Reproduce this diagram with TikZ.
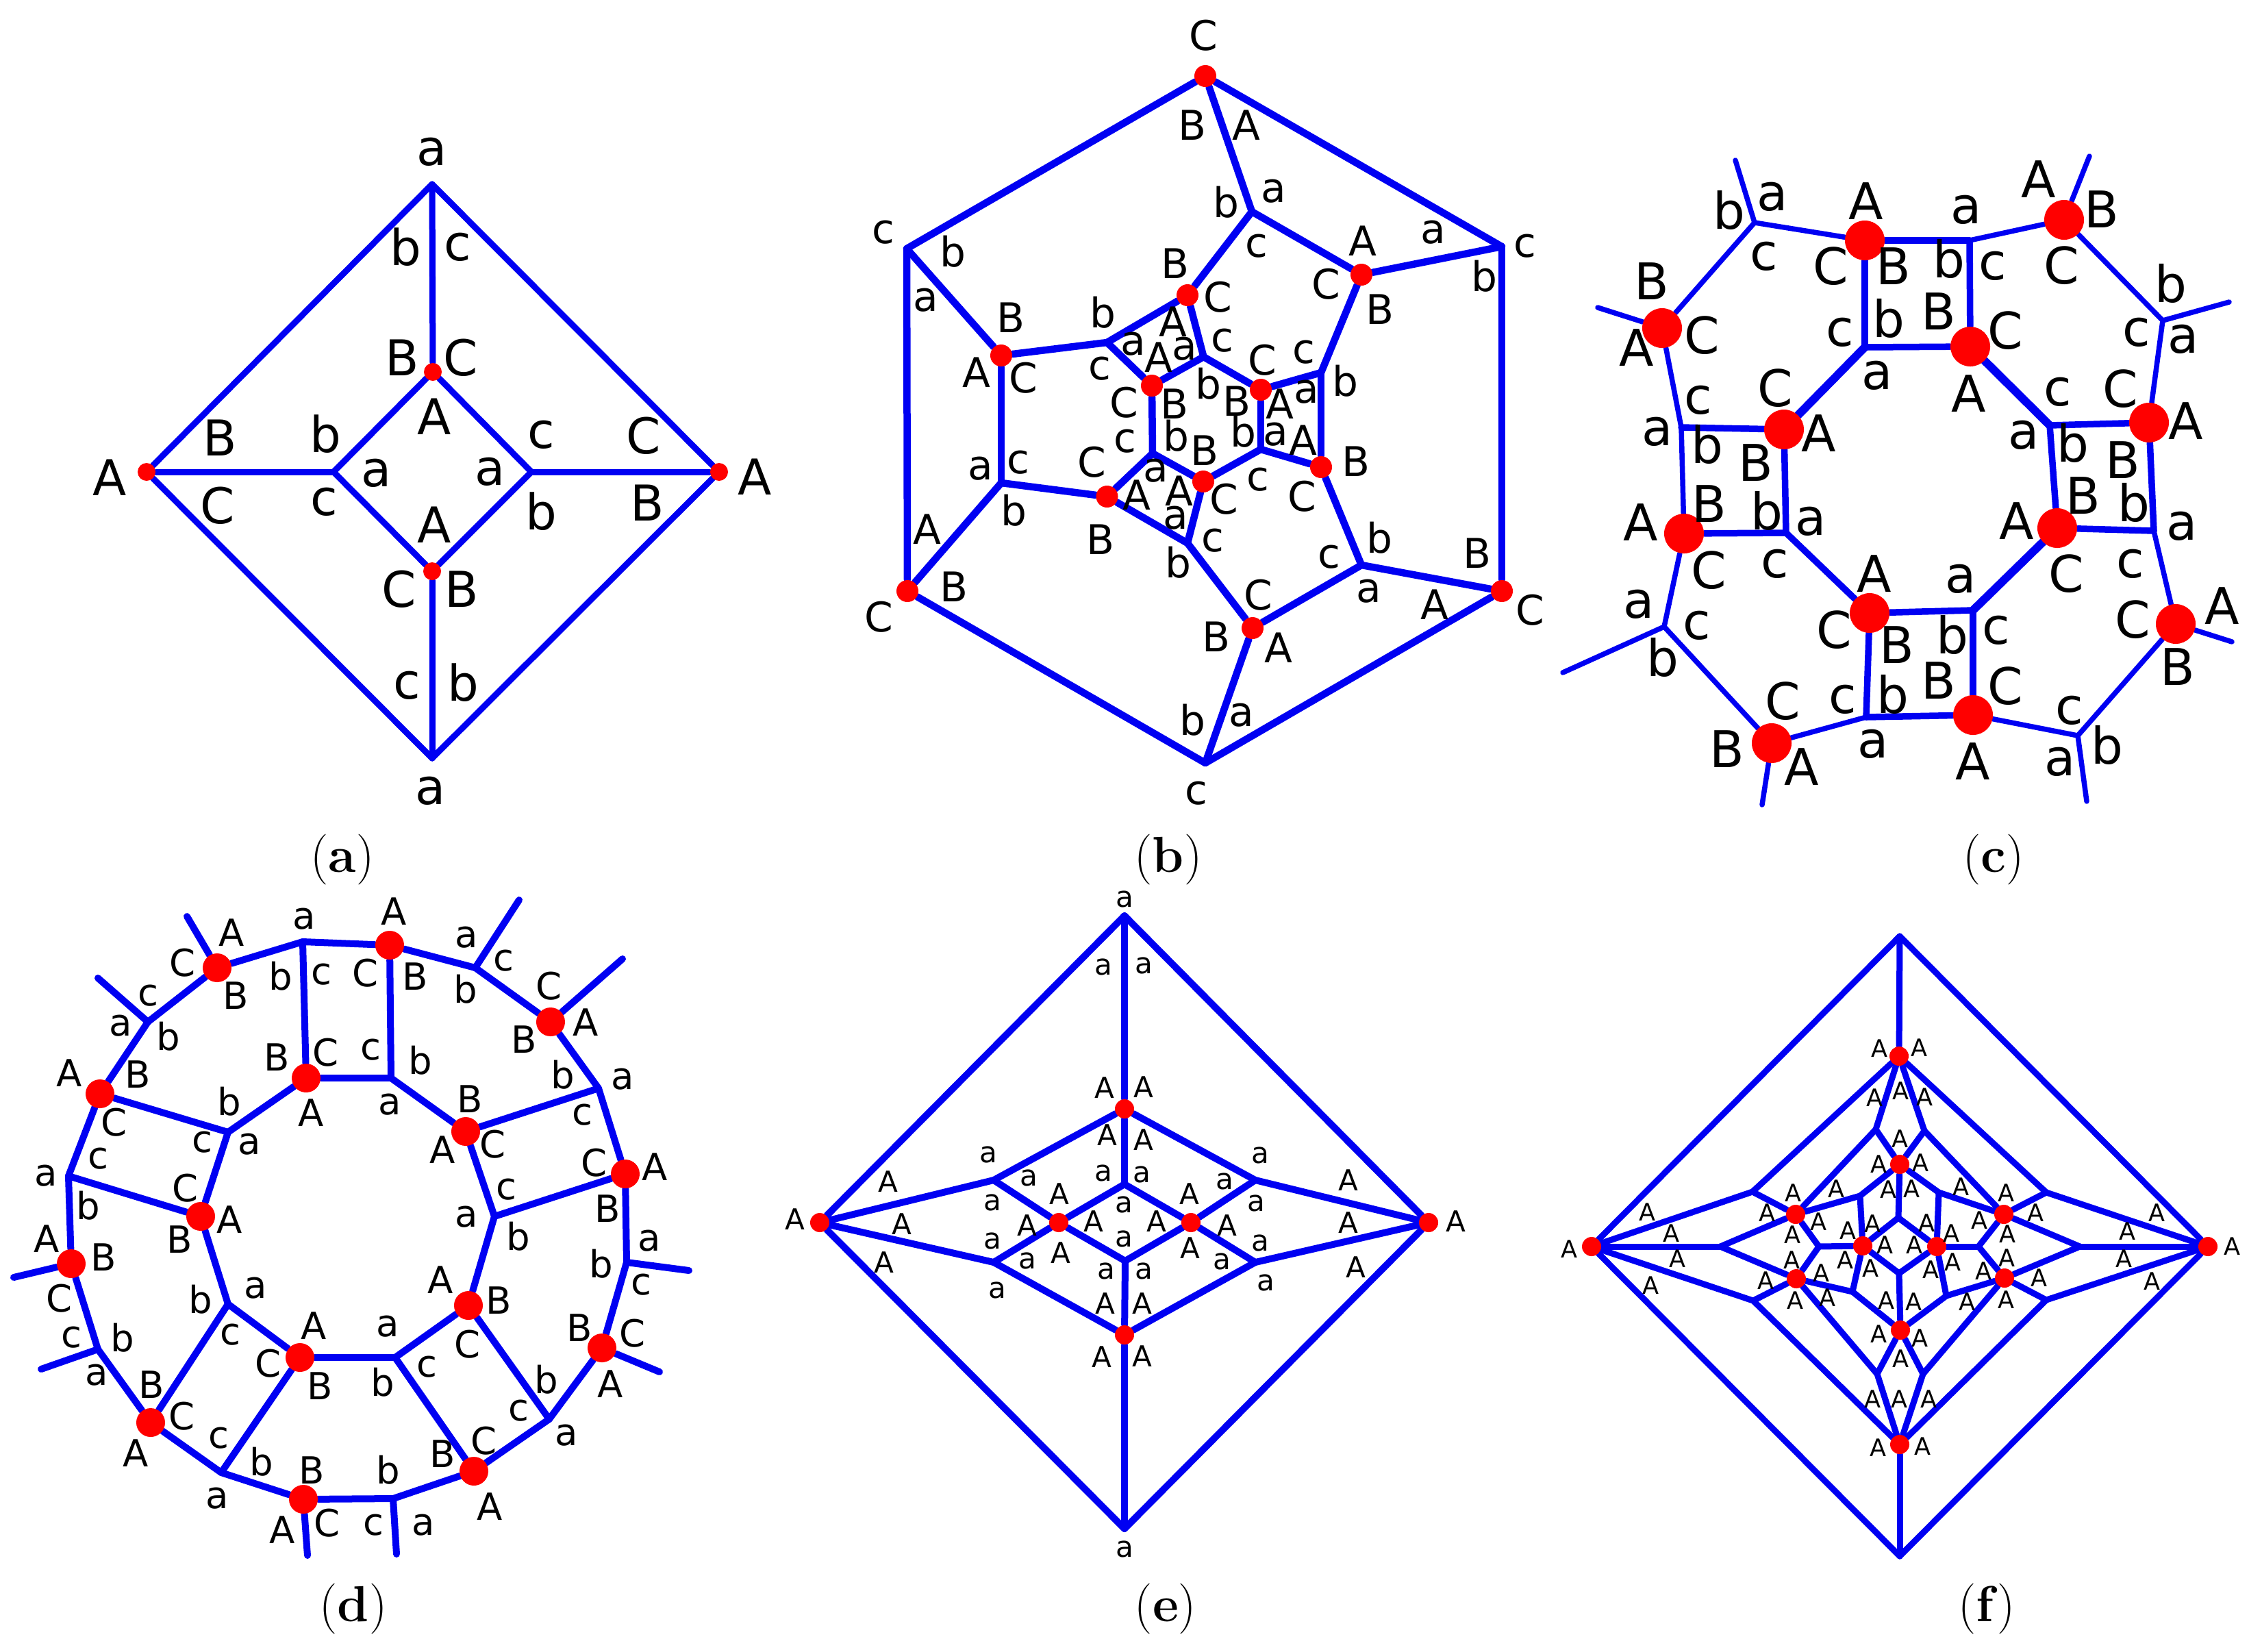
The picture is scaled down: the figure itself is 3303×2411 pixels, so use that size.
\documentclass[tikz,border=0pt]{standalone}
\usepackage{fontspec}
\usetikzlibrary{backgrounds}
\newfontfamily\lblfont{DejaVu Sans}

\begin{document}
\begin{tikzpicture}[
  x=0.01cm, y=-0.01cm,
  reddot/.style={circle, fill=red, inner sep=0pt, minimum size=#1*0.02cm},
  edgeline/.style={draw=blue!95!black, line width=#1*0.01cm, line cap=round, line join=round},
  edgeline/.default=8,
  lbl/.style={inner sep=0pt, text=black, font=\lblfont\fontsize{#1}{#1}\selectfont},
  figcap/.style={inner sep=0pt, font=\fontsize{21}{21}\selectfont}]
\useasboundingbox (0,0) rectangle (3303,2411);

\foreach \n/\x/\y in {1/631/269,4/631/1107,7/487/689,8/776/689} \coordinate (a\n) at (\x,\y);
\foreach \n/\x/\y in {2/214/689,3/1050/689,5/632/543,6/631/834} \node[reddot=13] (a\n) at (\x,\y) {};
\foreach \x/\y/\lab [count=\i] in {631/222/a,592/361/b,668/361/c,587/522/B,673/522/C,634/608/A,321/639/B,475/634/b,550/691/a,716/689/a,790/635/c,940/636/C,160/697/A,318/738/C,473/733/c,634/766/A,790/747/b,945/734/B,1102/696/A,583/860/C,674/860/B,594/1001/c,676/997/b,629/1155/a}
  \node[lbl=20.5] (la\i) at (\x,\y) {\lab};
\begin{scope}[on background layer]
\foreach \i/\j in {1/2,1/3,4/2,4/3,1/5,4/6,5/7,5/8,6/7,6/8,2/7,3/8} \draw[edgeline=9] (a\i) -- (a\j);
\end{scope}
\node[figcap] (capa) at (500,1255) {(\textbf{a})};

\foreach \n/\x/\y in {2/2193/360,4/1760/1114,6/1324/363,7/1828/309,9/1929/544,11/1988/825,13/1734/793,15/1462/705,17/1616.5/500,19/1757.5/521,21/1841/656,23/1683/662} \coordinate (b\n) at (\x,\y);
\foreach \n/\x/\y in {1/1760/111,3/2193/863,5/1325/863,8/1988/401,10/1929/682,12/1829/917,14/1616.5/725,16/1462/519,18/1734/431,20/1841/569,22/1757/703,24/1682/563} \node[reddot=16] (b\n) at (\x,\y) {};
\foreach \x/\y/\lab [count=\i] in {1757/52/C,1741/183/B,1820/183/A,1790/295/b,1860/279/a,1290/339/c,1391/367/b,2093/339/a,2227/359/c,2167/403/b,1990/352/A,1936/415/C,1835/359/c,1716/385/B,1778/434/C,2015/452/B,1352/438/a,1476/464/B,1610/456/b,1426/544/A,1494/552/C,1785/497/c,1713/470/A,1655/502/a,1692/522/A,1730/509/a,1606/538/c,1904/514/c,1843/526/C,1764/560/b,1908/572/a,1964/556/b,1715/590/B,1641/588/C,1806/586/B,1869/590/A,1717/636/b,1643/644/c,1815/630/b,1863/634/a,1903/643/A,1980/674/B,1759/658/B,1432/684/a,1487/675/c,1594/675/C,1688/687/a,1660/723/A,1722/717/A,1787/729/C,1837/700/c,1901/725/C,1480/745/b,1717/756/a,1354/773/A,1607/788/B,1771/789/c,1941/813/c,2014/785/b,1720/821/b,2157/808/B,1393/857/B,1837/869/C,1999/863/a,2095/883/A,1283/901/C,2234/891/C,1776/930/B,1867/946/A,1741/1051/b,1813/1044/a,1747/1158/c}
  \node[lbl=17] (lb\i) at (\x,\y) {\lab};
\begin{scope}[on background layer]
\foreach \i/\j in {1/2,2/3,3/4,4/5,5/6,6/1,1/7,2/8,3/11,4/12,5/15,6/16,7/8,8/9,9/10,10/11,11/12,12/13,13/14,14/15,15/16,16/17,17/18,18/7,18/19,9/20,10/21,13/22,14/23,17/24,19/20,20/21,21/22,22/23,23/24,24/19} \draw[edgeline=10.5] (b\i) -- (b\j);
\end{scope}
\node[figcap] (capb) at (1706,1255) {(\textbf{b})};

\foreach \n/\x/\y in {2/2876/351,4/3158/468,6/2993/621,8/3145/775,10/3034/1074,12/2725/1047,14/2430/915,16/2455/624,18/2562/325,19/2723/507,22/2608/778,24/2881/891,25/2534/234,26/3051/228,27/3255/441,28/3259/937,29/3047/1170,30/2573/1175,31/2282/982,32/2333/449} \coordinate (c\n) at (\x,\y);
\foreach \n/\x/\y in {1/2723/351,3/3014/321,5/3138/617,7/3004/771,9/3177/911,11/2881/1044,13/2587/1085,15/2459/779,17/2427/479,20/2877/506,21/2605/627,23/2730/895} \node[reddot=29] (c\n) at (\x,\y) {};
\foreach \x/\y/\lab [count=\i] in {2588/287/a,2525/307/b,2725/294/A,2871/306/a,2977/262/A,3069/306/B,2673/389/C,2765/389/B,2846/378/b,2910/388/c,2576/374/c,3010/388/C,3170/414/b,2412/411/B,2485/490/C,2390/508/A,2687/485/c,2758/465/b,2831/455/B,2928/483/C,3120/485/c,3188/495/a,2741/548/a,2875/575/A,3005/572/c,3096/568/C,2592/567/C,2480/584/c,2420/630/a,2656/633/A,2955/635/a,3192/615/A,2493/649/b,3027/647/b,3100/672/B,2564/676/B,2496/736/B,2580/746/b,3042/724/B,3116/734/b,2396/763/A,2644/761/a,2945/761/A,3186/768/a,2495/833/C,3017/838/C,2592/823/c,3111/823/c,2737/838/A,2863/845/a,3245/885/A,3114/905/C,2393/882/a,2678/920/C,2478/913/c,2770/942/B,2851/927/b,2915/920/c,2428/960/b,3180/974/B,2691/1021/c,2764/1014/b,2831/994/B,2928/1002/C,2603/1024/C,3022/1037/c,3077/1088/b,2735/1086/a,2522/1094/B,3008/1112/a,2631/1120/A,2881/1112/A}
  \node[lbl=21] (lc\i) at (\x,\y) {\lab};
\begin{scope}[on background layer]
\foreach \i/\j in {18/1,2/3,3/4,4/5,8/9,9/10,10/11,12/13,13/14,14/15,16/17,17/18,18/25,3/26,4/27,9/28,10/29,13/30,14/31,17/32,15/16} \draw[edgeline=7.5] (c\i) -- (c\j);
\foreach \i/\j in {1/2,1/19,19/20,2/20,5/6,6/7,7/8,5/8,16/21,21/22,22/15,23/24,23/12,24/11,12/11,22/23} \draw[edgeline=9.5] (c\i) -- (c\j);
\foreach \i/\j in {20/6,21/19,24/7} \draw[edgeline=12] (c\i) -- (c\j);
\end{scope}
\node[figcap] (capc) at (2911,1255) {(\textbf{c})};

\foreach \n/\x/\y in {2/694/1413,4/874/1589,6/915/1843,8/802/2072,10/574/2188,12/323/2150,14/143/1970,16/100/1717,18/216/1492,20/442/1375,22/571/1574,24/722/1776,26/577/1982,28/333/1904,30/333/1653,31/273/1338,32/758/1314,33/909/1400,34/1006/1855,35/963/2003,36/579/2269,37/449/2271,38/60/1999,39/20/1865,40/143/1428} \coordinate (d\n) at (\x,\y);
\foreach \n/\x/\y in {1/569/1380,3/804/1492,5/913/1714,7/879/1968,9/692/2148,11/443/2189,13/220/2077,15/104/1845,17/146/1597,19/317/1413,21/447/1574,23/680/1652,25/684/1906,27/438/1982,29/293/1776} \node[reddot=21] (d\n) at (\x,\y) {};
\foreach \x/\y/\lab [count=\i] in {444/1342/a,575/1331/A,338/1362/A,681/1369/a,267/1406/C,410/1425/b,469/1423/c,534/1421/C,606/1426/B,735/1403/c,680/1444/b,802/1440/C,344/1454/B,216/1454/c,176/1498/a,855/1493/A,246/1513/b,765/1518/B,404/1544/B,476/1537/C,541/1533/c,614/1548/b,822/1569/b,909/1576/a,101/1567/A,201/1569/B,686/1605/B,335/1608/b,569/1613/a,454/1625/A,850/1628/c,167/1639/C,295/1668/c,364/1671/a,720/1671/C,646/1679/A,143/1692/c,868/1698/C,956/1704/A,67/1717/a,271/1735/C,739/1737/c,887/1765/B,681/1777/a,335/1781/A,129/1760/b,757/1805/b,262/1810/B,948/1812/a,68/1809/A,151/1836/B,878/1845/b,936/1876/c,643/1869/A,293/1897/b,373/1881/a,87/1896/C,728/1899/B,566/1937/a,458/1936/A,683/1963/C,846/1939/B,924/1947/C,336/1949/c,179/1953/b,104/1953/c,623/1996/c,392/1991/C,467/2024/B,559/2018/b,891/2021/A,798/2014/b,141/2008/a,221/2022/B,757/2060/c,266/2068/C,827/2096/a,319/2100/c,707/2104/C,646/2123/B,198/2122/A,382/2134/b,567/2146/b,455/2147/B,317/2188/a,715/2200/A,412/2234/A,478/2224/C,545/2227/c,618/2227/a}
  \node[lbl=15.5] (ld\i) at (\x,\y) {\lab};
\begin{scope}[on background layer]
\foreach \i/\j in {1/2,2/3,3/4,4/5,5/6,6/7,7/8,8/9,9/10,10/11,11/12,12/13,13/14,14/15,15/16,16/17,17/18,18/19,19/20,20/1,21/22,22/23,23/24,24/25,25/26,26/27,27/28,28/29,29/30,30/21,20/21,1/22,4/23,5/24,8/25,9/26,12/27,13/28,16/29,17/30,19/31,2/32,3/33,6/34,7/35,10/36,11/37,14/38,15/39,18/40} \draw[edgeline=10] (d\i) -- (d\j);
\end{scope}
\node[figcap] (capd) at (516,2349) {(\textbf{d})};

\foreach \n/\x/\y in {1/1642/1337,2/1642/2232,9/1451/1723,10/1451/1843,11/1833/1723,12/1833/1843,13/1642/1729,14/1643/1841} \coordinate (e\n) at (\x,\y);
\foreach \n/\x/\y in {3/1197/1785,4/2086/1785,5/1642/1619,6/1642/1949,7/1546/1785,8/1739/1785} \node[reddot=14] (e\n) at (\x,\y) {};
\foreach \x/\y/\lab [count=\i] in {1642/1313/a,1611/1412/a,1670/1410/a,1613/1588/A,1670/1587/A,1617/1657/A,1670/1664/A,1443/1686/a,1840/1687/a,1611/1713/a,1667/1715/a,1297/1725/A,1969/1723/A,1502/1720/a,1788/1725/a,1547/1743/A,1737/1743/A,1449/1756/a,1834/1757/a,1641/1759/a,1161/1780/A,1317/1787/A,1500/1789/A,1597/1783/A,1689/1783/A,1792/1789/A,1969/1785/A,2126/1783/A,1641/1809/a,1449/1812/a,1840/1815/a,1549/1829/A,1738/1822/A,1500/1841/a,1784/1842/a,1291/1843/A,1980/1850/A,1615/1856/a,1670/1856/a,1848/1873/a,1456/1884/a,1614/1903/A,1668/1903/A,1609/1981/A,1668/1980/A,1642/2262/a}
  \node[lbl=12] (le\i) at (\x,\y) {\lab};
\begin{scope}[on background layer]
\foreach \i/\j in {1/3,1/4,2/3,2/4,1/5,5/13,14/6,6/2,5/9,5/11,6/10,6/12,3/9,3/10,4/11,4/12,9/7,10/7,11/8,12/8,7/13,7/14,8/13,8/14} \draw[edgeline=10] (e\i) -- (e\j);
\end{scope}
\node[figcap] (cape) at (1702,2349) {(\textbf{e})};

\foreach \n/\x/\y in {1/2774/1367,2/2774/2272,15/2739/1649,16/2810/1651,17/2772/1778,18/2773/1859,19/2716/1746,20/2831/1741,21/2705/1886,22/2842/1892,23/2559/1740,24/2988/1741,25/2560/1899,26/2988/1898,27/2741/2006,28/2808/2006,29/2656/1820,30/2889/1820,31/2512/1820,32/3037/1820} \coordinate (f\n) at (\x,\y);
\foreach \n/\x/\y in {3/2324/1820,4/3224/1820,5/2773/1542,6/2774/2109,7/2774/1700,8/2775/1942,9/2622/1773,10/2926/1773,11/2623/1867,12/2927/1866,13/2720/1819,14/2828/1820} \node[reddot=14] (f\n) at (\x,\y) {};
\foreach \x/\y [count=\i] in {2744/1531,2802/1530,2737/1603,2775/1593,2810/1602,2774/1663,2743/1700,2804/1698,2681/1736,2863/1733,2618/1742,2929/1742,2757/1737,2791/1736,2580/1771,2972/1771,2655/1784,2890/1782,2734/1787,2813/1786,2617/1803,2931/1802,2698/1797,2849/1801,2752/1818,2795/1818,2616/1840,2930/1837,2694/1840,2851/1843,2659/1859,2731/1852,2819/1854,2896/1856,2578/1870,2977/1866,2621/1899,2929/1898,2668/1895,2872/1901,2754/1899,2794/1901,2743/1948,2803/1954,2775/1984,2734/2043,2773/2043,2816/2043,2742/2114,2807/2112,2291/1824,3259/1820,2405/1770,2440/1801,2449/1838,2410/1877,3149/1771,3106/1798,3101/1838,3142/1871}
  \node[lbl=10] (lf\i) at (\x,\y) {A};
\begin{scope}[on background layer]
\foreach \i/\j in {1/3,1/4,2/3,2/4,1/5,2/6,5/23,5/24,6/25,6/26,5/15,5/16,15/9,16/10,15/7,16/7,7/19,7/20,7/17,19/13,20/14,19/9,20/10,17/13,17/14,9/23,9/31,9/29,11/29,11/31,11/25,10/24,10/32,10/30,12/30,12/32,12/26,29/13,30/14,13/18,14/18,18/8,13/21,14/22,21/11,22/12,21/8,22/8,8/27,8/28,27/11,28/12,27/6,28/6,3/23,3/31,3/25,4/24,4/32,4/26} \draw[edgeline=9] (f\i) -- (f\j);
\end{scope}
\node[figcap] (capf) at (2901,2349) {(\textbf{f})};
\end{tikzpicture}
\end{document}
